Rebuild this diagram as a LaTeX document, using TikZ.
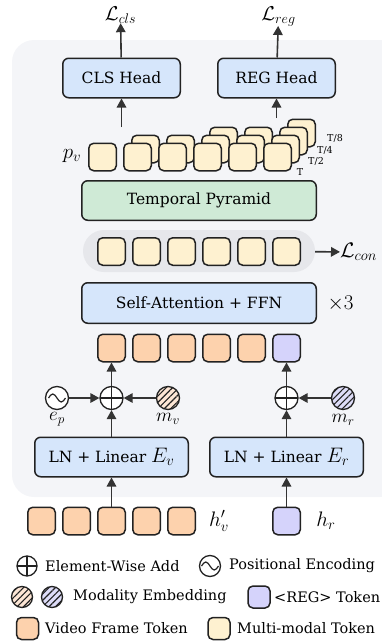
\RequirePackage{fix-cm}
\documentclass[tikz,border=0pt]{standalone}
\usepackage{fontspec}
\setmainfont{DejaVu Serif}
\usetikzlibrary{arrows.meta, positioning, patterns.meta}

\definecolor{linec}{HTML}{222222}
\definecolor{arrowc}{HTML}{333333}
\definecolor{bluef}{HTML}{D6E6FB}
\definecolor{greenf}{HTML}{CFEAD6}
\definecolor{orangef}{HTML}{FDD2AD}
\definecolor{yellf}{HTML}{FEF1D0}
\definecolor{purpf}{HTML}{D5D3FB}
\definecolor{mvf}{HTML}{FDE6D5}
\definecolor{mrf}{HTML}{DDDCF8}
\definecolor{panelc}{HTML}{F4F5F8}
\definecolor{pillc}{HTML}{E6E7EB}

\begin{document}
\begin{tikzpicture}[x=1pt, y=-1pt, node distance=35pt,
   >={Triangle[length=9pt, width=9.5pt]},
   blk/.style={draw=linec, line width=1.5pt, rounded corners=6pt, fill=bluef, minimum height=39.5pt, inner sep=0pt, font=\fontsize{15.5}{18}\selectfont},
   tok/.style={draw=linec, line width=1.5pt, rounded corners=5pt, minimum size=27.5pt, inner sep=0pt},
   addop/.style={circle, draw=linec, line width=1.3pt, fill=white, minimum size=23pt, inner sep=0pt,
      path picture={\draw[linec, line width=1.3pt] (path picture bounding box.north) -- (path picture bounding box.south) (path picture bounding box.west) -- (path picture bounding box.east);}},
   pesym/.style={circle, draw=linec, line width=1.3pt, fill=white, minimum size=23pt, inner sep=0pt,
      path picture={\draw[linec, line width=1.2pt] ([xshift=-8.5pt]path picture bounding box.center) sin ++(4.25pt,4pt) cos ++(4.25pt,-4pt) sin ++(4.25pt,-4pt) cos ++(4.25pt,4pt);}},
   hatch/.style={circle, draw=linec, line width=1.3pt, preaction={fill=#1}, pattern={Lines[angle=45, distance=4.5pt, line width=1.1pt]}, pattern color=linec, minimum size=23pt, inner sep=0pt},
   arr/.style={->, color=arrowc, line width=1.6pt},
   lab/.style={inner sep=0pt, font=\fontsize{21}{24}\selectfont},
   slab/.style={inner sep=0pt, font=\fontsize{19}{22}\selectfont},
   legt/.style={anchor=west, inner sep=0pt, font=\fontsize{14.5}{17}\selectfont},
   lvl/.style={inner sep=0pt, font=\fontsize{9.5}{11}\selectfont}]

   \useasboundingbox (0,0) rectangle (381,643);
   \fill[panelc, rounded corners=22pt] (12,40) rectangle (402,497);

   \node[lab, anchor=base, font=\fontsize{20}{22}\selectfont] (lcls) at (120.5,20) {$\mathcal{L}_{cls}$};
   \node[lab, anchor=base, font=\fontsize{20}{22}\selectfont] (lreg) at (278.5,20) {$\mathcal{L}_{reg}$};
   \node[blk, minimum width=117.5pt] (clsh) at (121.5,78) {CLS Head};
   \node[blk, minimum width=117.5pt] (regh) at (276.5,78) {REG Head};
   \coordinate (c1) at (121.5,127);
   \coordinate (c2) at (276.5,118);

   \node[tok, fill=yellf] (e6) at (301.5,133) {};
   \node[tok, fill=yellf] (q4) at (223.5,141) {};
   \node[tok, fill=yellf] (q5) [right of=q4] {};
   \node[tok, fill=yellf] (q6) [right of=q5] {};
   \node[tok, fill=yellf] (h2) at (145.5,149) {};
   \node[tok, fill=yellf] (h3) [right of=h2] {};
   \node[tok, fill=yellf] (h4) [right of=h3] {};
   \node[tok, fill=yellf] (h5) [right of=h4] {};
   \node[tok, fill=yellf] (h6) [right of=h5] {};
   \node[tok, fill=yellf] (t1) at (102.5,157) {};
   \node[tok, fill=yellf] (t2) [right of=t1] {};
   \node[tok, fill=yellf] (t3) [right of=t2] {};
   \node[tok, fill=yellf] (t4) [right of=t3] {};
   \node[tok, fill=yellf] (t5) [right of=t4] {};
   \node[tok, fill=yellf] (t6) [right of=t5] {};
   \node[lab] (pv) at (72,156) {$p_v$};
   \node[lvl] (lt) at (300,172) {T};
   \node[lvl] (lt2) at (316,161) {T/2};
   \node[lvl] (lt4) at (325,150) {T/4};
   \node[lvl] (lt8) at (335,138) {T/8};

   \node[blk, fill=greenf, minimum width=234.5pt] (tp) at (199,200.5) {Temporal Pyramid};

   \node[fill=pillc, rounded corners=21pt, minimum width=232pt, minimum height=42pt] (pill) at (199,251) {};
   \node[tok, fill=yellf] (m1) at (111.5,251.5) {};
   \node[tok, fill=yellf] (m2) [right of=m1] {};
   \node[tok, fill=yellf] (m3) [right of=m2] {};
   \node[tok, fill=yellf] (m4) [right of=m3] {};
   \node[tok, fill=yellf] (m5) [right of=m4] {};
   \node[tok, fill=yellf] (m6) [right of=m5] {};
   \node[lab, anchor=west] (lcon) at (340,252) {$\mathcal{L}_{con}$};

   \node[blk, minimum width=234.5pt, minimum height=40.5pt] (sa) at (199,303) {Self-Attention + FFN};
   \node[lab] (rep) at (340.5,304) {$\times 3$};

   \node[tok, fill=orangef] (v1) at (111.5,348) {};
   \node[tok, fill=orangef] (v2) [right of=v1] {};
   \node[tok, fill=orangef] (v3) [right of=v2] {};
   \node[tok, fill=orangef] (v4) [right of=v3] {};
   \node[tok, fill=orangef] (v5) [right of=v4] {};
   \node[tok, fill=purpf] (r1) [right of=v5] {};

   \node[addop] (add1) at (111.5,398) {};
   \node[pesym] (pe) at (57,398) {};
   \node[hatch=mvf] (mv) at (168,398) {};
   \node[addop] (add2) at (286.5,398) {};
   \node[hatch=mrf] (mr) at (343,398) {};
   \node[slab] (lep) at (57,419) {$e_p$};
   \node[slab] (lmv) at (168,419) {$m_v$};
   \node[slab] (lmr) at (343,420) {$m_r$};

   \node[blk, minimum width=153.5pt] (lnv) at (111.5,457) {LN + Linear {\fontsize{21}{21}\selectfont$E_v$}};
   \node[blk, minimum width=153.5pt] (lnr) at (286.5,457) {LN + Linear {\fontsize{21}{21}\selectfont$E_r$}};

   \node[tok, fill=orangef] (hv1) at (41.5,521) {};
   \node[tok, fill=orangef] (hv2) [right of=hv1] {};
   \node[tok, fill=orangef] (hv3) [right of=hv2] {};
   \node[tok, fill=orangef] (hv4) [right of=hv3] {};
   \node[tok, fill=orangef] (hv5) [right of=hv4] {};
   \node[tok, fill=purpf] (hr) at (286.5,521) {};
   \node[lab] (lhv) at (219,521) {$h'_v$};
   \node[lab] (lhr) at (326,521) {$h_r$};

   \node[addop, minimum size=20pt] (gadd) at (27,566) {};
   \node[legt] (tadd) at (45,566) {Element-Wise Add};
   \node[pesym, minimum size=21pt] (gpe) at (210,566) {};
   \node[legt] (tpe) at (229,566) {Positional Encoding};
   \node[hatch=mvf, minimum size=21pt] (gmv) at (22,597) {};
   \node[hatch=mrf, minimum size=21pt] (gmr) at (52,597) {};
   \node[legt] (tmod) at (73,597) {Modality Embedding};
   \node[tok, fill=purpf, minimum size=22pt] (greg) at (259,597) {};
   \node[legt] (treg) at (274,597) {<REG> Token};
   \node[tok, fill=orangef, minimum size=22pt] (gvid) at (27.5,628.5) {};
   \node[legt] (tvid) at (45,628.5) {Video Frame Token};
   \node[tok, fill=yellf, minimum size=22pt] (gmm) at (219,628.5) {};
   \node[legt] (tmm) at (237,628.5) {Multi-modal Token};

   \path[arr] (clsh) edge (lcls);
   \path[arr] (regh) edge (lreg);
   \path[arr] (c1) edge (clsh);
   \path[arr] (c2) edge (regh);
   \path[arr] (pill) edge (lcon);
   \path[arr] (add1) edge (v1);
   \path[arr] (add2) edge (r1);
   \path[arr] (pe) edge (add1);
   \path[arr] (mv) edge (add1);
   \path[arr] (mr) edge (add2);
   \path[arr] (lnv) edge (add1);
   \path[arr] (lnr) edge (add2);
   \path[arr] (hv3) edge (lnv);
   \path[arr] (hr) edge (lnr);
\end{tikzpicture}
\end{document}
